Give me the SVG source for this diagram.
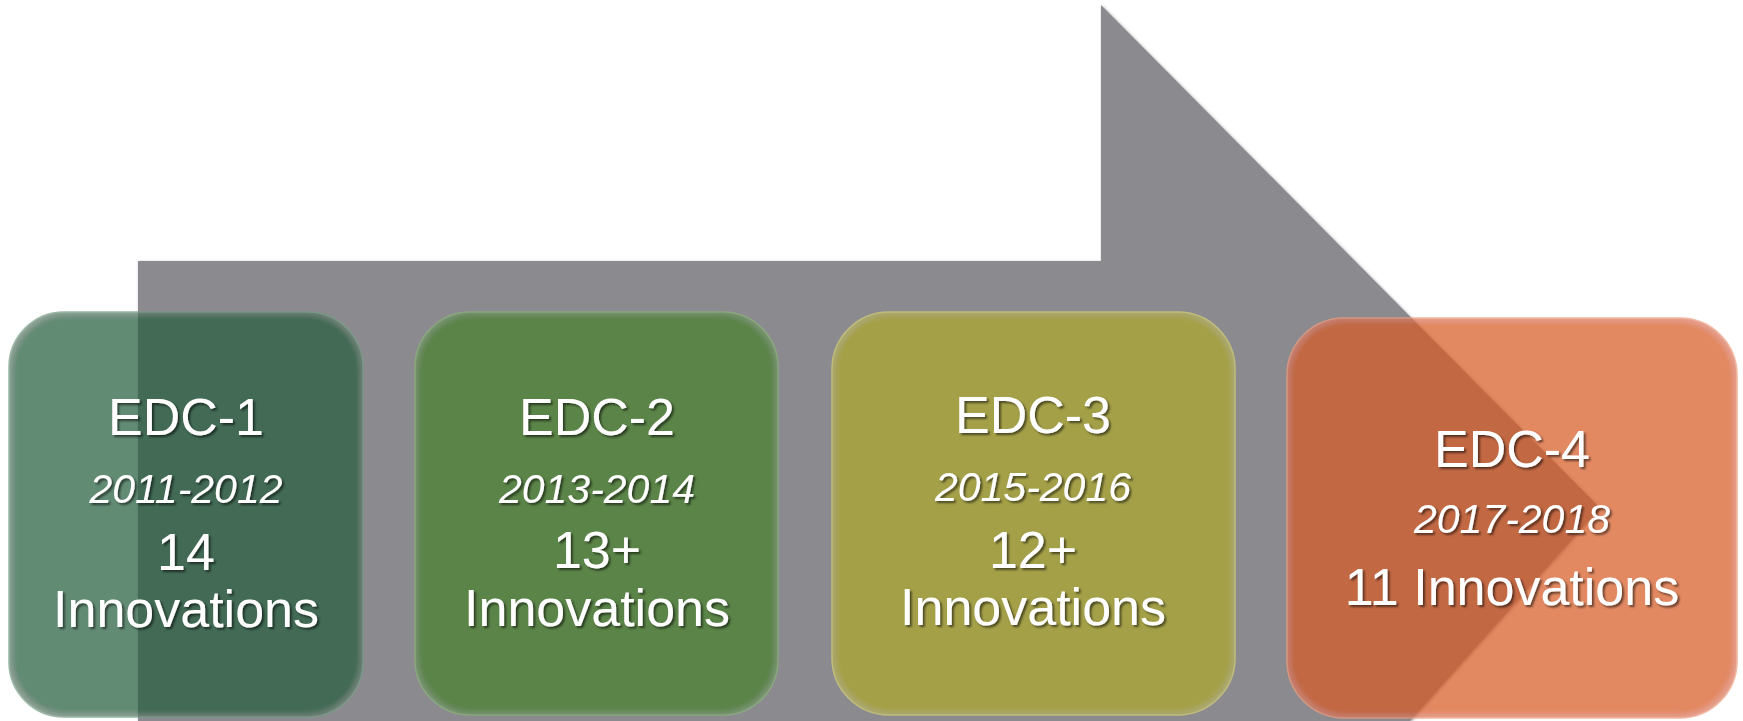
<svg xmlns="http://www.w3.org/2000/svg" width="1743" height="721" viewBox="0 0 1743 721">
  <style>
    .lbl { fill: #ffffff; font-family: "Liberation Sans", Arial, sans-serif; text-anchor: middle; }
    .big { font-size: 52px; }
    .yr { font-size: 41px; font-style: italic; }
    .box { opacity: 0.72; }
  </style>
  <defs>
    <!-- soft edge shadow for the large arrow -->
    <filter id="arrowShade" x="-5%" y="-5%" width="110%" height="110%">
      <feGaussianBlur in="SourceAlpha" stdDeviation="1.5" result="b"/>
      <feOffset in="b" dx="1" dy="1" result="o"/>
      <feFlood flood-color="#55545a" flood-opacity="0.6"/>
      <feComposite in2="o" operator="in" result="s"/>
      <feMerge><feMergeNode in="s"/><feMergeNode in="SourceGraphic"/></feMerge>
    </filter>
    <!-- light inner rim on the rounded tiles -->
    <filter id="bevel" x="-5%" y="-5%" width="110%" height="110%">
      <feMorphology in="SourceAlpha" operator="erode" radius="3" result="er"/>
      <feGaussianBlur in="er" stdDeviation="3" result="bl"/>
      <feComposite in="SourceAlpha" in2="bl" operator="out" result="rim"/>
      <feFlood flood-color="#ffffff" flood-opacity="0.14"/>
      <feComposite in2="rim" operator="in" result="hl"/>
      <feMerge><feMergeNode in="SourceGraphic"/><feMergeNode in="hl"/></feMerge>
    </filter>
    <!-- drop shadow under the white labels -->
    <filter id="txtShadow" x="-10%" y="-20%" width="120%" height="140%">
      <feGaussianBlur in="SourceAlpha" stdDeviation="1.2" result="b"/>
      <feOffset in="b" dx="2" dy="2" result="o"/>
      <feFlood flood-color="#000000" flood-opacity="0.55"/>
      <feComposite in2="o" operator="in" result="s"/>
      <feMerge><feMergeNode in="s"/><feMergeNode in="SourceGraphic"/></feMerge>
    </filter>
  </defs>

  <rect width="1743" height="721" fill="#ffffff"/>

  <!-- background progress arrow -->
  <g id="connectors">
    <polygon points="138,261 1101,261 1101,5 1600,508 1375,760 138,760" fill="#8b8a8f" filter="url(#arrowShade)"/>
  </g>

  <g id="edc1">
    <g class="box">
      <rect x="9" y="312" width="354" height="405" rx="55" ry="55" fill="#255f40" stroke="#4f8a69" stroke-width="1.5" filter="url(#bevel)"/>
    </g>
    <g filter="url(#txtShadow)">
      <text class="lbl big" x="186" y="435">EDC-1</text>
      <text class="lbl yr" x="186" y="503">2011-2012</text>
      <text class="lbl big" x="186" y="570">14</text>
      <text class="lbl big" x="186" y="627">Innovations</text>
    </g>
  </g>

  <g id="edc2">
    <g class="box">
      <rect x="415" y="312" width="363" height="403" rx="55" ry="55" fill="#48822e" stroke="#6fa552" stroke-width="1.5" filter="url(#bevel)"/>
    </g>
    <g filter="url(#txtShadow)">
      <text class="lbl big" x="597" y="435">EDC-2</text>
      <text class="lbl yr" x="597" y="503">2013-2014</text>
      <text class="lbl big" x="597" y="568">13+</text>
      <text class="lbl big" x="597" y="626">Innovations</text>
    </g>
  </g>

  <g id="edc3">
    <g class="box">
      <rect x="832" y="312" width="403" height="403" rx="57" ry="57" fill="#aea92f" stroke="#cdc94c" stroke-width="1.5" filter="url(#bevel)"/>
    </g>
    <g filter="url(#txtShadow)">
      <text class="lbl big" x="1033" y="433">EDC-3</text>
      <text class="lbl yr" x="1033" y="501">2015-2016</text>
      <text class="lbl big" x="1033" y="568">12+</text>
      <text class="lbl big" x="1033" y="625">Innovations</text>
    </g>
  </g>

  <g id="edc4">
    <g class="box">
      <rect x="1287" y="318" width="450" height="400" rx="57" ry="57" fill="#d85c26" stroke="#ec8a5c" stroke-width="1.5" filter="url(#bevel)"/>
    </g>
    <g filter="url(#txtShadow)">
      <text class="lbl big" x="1512" y="467">EDC-4</text>
      <text class="lbl yr" x="1512" y="533">2017-2018</text>
      <text class="lbl big" x="1512" y="605">11 Innovations</text>
    </g>
  </g>
</svg>
